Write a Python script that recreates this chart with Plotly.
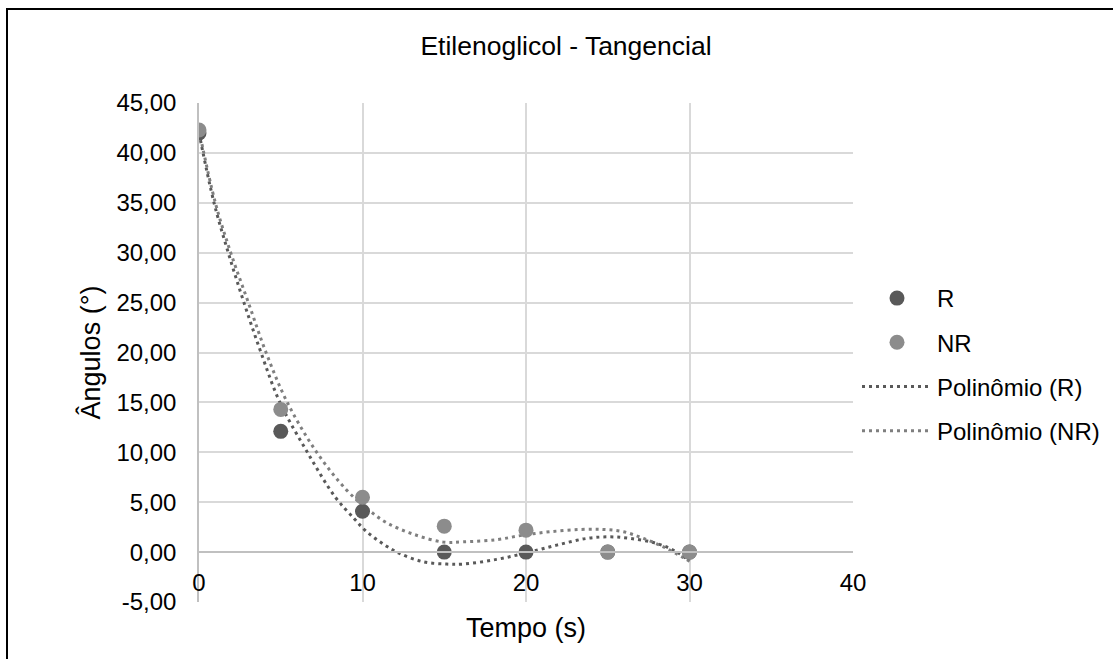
import plotly.graph_objects as go

# Data points
tempo = [0, 5, 10, 15, 20, 25, 30]
r_vals = [42.0, 12.1, 4.1, 0.0, 0.0, 0.0, 0.0]
nr_vals = [42.3, 14.3, 5.5, 2.6, 2.2, 0.0, 0.0]
x_ticks = [0, 10, 20, 30, 40]
y_ticks = [-5, 0, 5, 10, 15, 20, 25, 30, 35, 40, 45]
y_tick_text = ["-5,00", "0,00", "5,00", "10,00", "15,00", "20,00", "25,00",
               "30,00", "35,00", "40,00", "45,00"]

# Polynomial trend lines
trend_r_x = [0, 0.92, 1.79, 2.75, 3.79, 4.95, 6.63, 8.32, 9.48, 10.15, 11.07, 12.19,
             13.72, 15.15, 16.17, 18.2, 20.04, 21.88, 23.71, 25.14, 26.36, 27.99, 29.2, 30.0]
trend_r_y = [42.0, 35.0, 30.0, 25.0, 20.0, 15.0, 10.0, 5.54, 3.37, 2.2, 1.03, -0.07,
             -0.97, -1.2, -1.2, -0.73, -0.07, 0.70, 1.37, 1.53, 1.37, 0.87, 0.03, -0.9]
trend_nr_x = [0, 1.0, 1.94, 3.02, 4.10, 5.40, 7.2, 9.03, 10.26, 11.48, 13.1, 14.95,
              16.17, 18.2, 19.84, 21.47, 23.3, 24.73, 25.96, 27.19, 28.4, 29.6, 30.0]
trend_nr_y = [42.3, 35.0, 30.0, 25.0, 20.0, 15.0, 10.0, 6.21, 4.38, 2.94, 1.8, 1.0,
              1.03, 1.25, 1.7, 2.04, 2.27, 2.27, 2.04, 1.37, 0.53, -0.53, -0.9]

W, H = 1113, 659
L, R, T, B = 199, 260, 103, 57
y_min, y_max = -5, 45

font = "Liberation Sans, Arial, sans-serif"
c_r = "#595959"
c_nr = "#8c8c8c"

fig = go.Figure()
fig.add_trace(go.Scatter(x=trend_r_x, y=trend_r_y, mode="lines", name="Polinômio (R)",
                         line=dict(color=c_r, width=3, dash="3px,4px", shape="spline", smoothing=1.0),
                         legendrank=3, legendgroup="c"))
fig.add_trace(go.Scatter(x=trend_nr_x, y=trend_nr_y, mode="lines", name="Polinômio (NR)",
                         line=dict(color="#7f7f7f", width=3, dash="3px,4px", shape="spline", smoothing=1.0),
                         legendrank=4, legendgroup="d"))
fig.add_trace(go.Scatter(x=tempo, y=r_vals, mode="markers", name="R",
                         marker=dict(color=c_r, size=15), legendrank=1, legendgroup="a"))
fig.add_trace(go.Scatter(x=tempo, y=nr_vals, mode="markers", name="NR",
                         marker=dict(color=c_nr, size=15), legendrank=2, legendgroup="b"))

pos0 = (0 - y_min) / (y_max - y_min)
plot_w = W - L - R
plot_h = H - T - B

fig.update_layout(
    width=W, height=H,
    margin=dict(l=L, r=R, t=T, b=B, pad=0, autoexpand=False),
    paper_bgcolor="white", plot_bgcolor="white",
    font=dict(family=font, size=24, color="#000000"),
    title=dict(text="Etilenoglicol - Tangencial", x=566 / W, xanchor="center",
               y=1 - 46 / H, yanchor="middle", font=dict(size=26.5, color="#000000")),
    showlegend=True,
    legend=dict(x=(857 - L) / plot_w, xanchor="left", y=1 - (298 - T - 22) / plot_h,
                yanchor="top", font=dict(size=24, color="#000000"), itemwidth=70,
                traceorder="grouped", tracegroupgap=10, bgcolor="rgba(0,0,0,0)"),
    xaxis=dict(range=[0, 40], tickvals=x_ticks, ticktext=[str(v) for v in x_ticks],
               showgrid=True, gridcolor="#d9d9d9", gridwidth=1.5,
               showline=True, linecolor="#c0c0c0", linewidth=1.5,
               zeroline=False, anchor="free", position=pos0, ticks="",
               ticklabelstandoff=9,
               tickfont=dict(size=24, color="#000000"),
               title=dict(text="Tempo (s)", font=dict(size=27, color="#000000"), standoff=22)),
    yaxis=dict(range=[y_min, y_max], tickvals=y_ticks, ticktext=y_tick_text,
               showgrid=True, gridcolor="#d9d9d9", gridwidth=1.5,
               showline=True, linecolor="#c0c0c0", linewidth=1.5,
               zeroline=False, ticks="", ticklabelstandoff=16,
               tickfont=dict(size=24, color="#000000"),
               title=dict(text="Ângulos (°)", font=dict(size=27, color="#000000"), standoff=8)),
    shapes=[dict(type="rect", xref="paper", yref="paper",
                 x0=(7 - L) / plot_w, x1=(W + 20 - L) / plot_w,
                 y0=-(B + 20) / plot_h, y1=1 + (T - 9) / plot_h,
                 line=dict(color="#000000", width=2), fillcolor="rgba(0,0,0,0)")],
)

fig.write_html("out.html")
